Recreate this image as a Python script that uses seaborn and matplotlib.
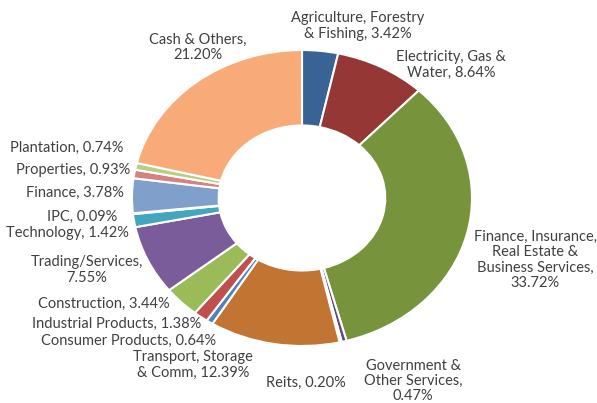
import matplotlib
matplotlib.use("Agg")
import matplotlib.pyplot as plt
import seaborn as sns

# sector names (line breaks as in the chart) and weights in %
sectors = [
    "Agriculture, Forestry\n& Fishing",
    "Electricity, Gas &\nWater",
    "Finance, Insurance,\nReal Estate &\nBusiness Services",
    "Government &\nOther Services",
    "Reits",
    "Transport, Storage\n& Comm",
    "Consumer Products",
    "Industrial Products",
    "Construction",
    "Trading/Services",
    "Technology",
    "IPC",
    "Finance",
    "Properties",
    "Plantation",
    "Cash & Others",
]
weights = [3.42, 8.64, 33.72, 0.47, 0.20, 12.39, 0.64, 1.38,
           3.44, 7.55, 1.42, 0.09, 3.78, 0.93, 0.74, 21.20]
# value goes on a new line for these
value_on_new_line = [False, False, True, True, False, False, False, False,
                     False, True, False, False, False, False, False, True]

colors = ["#3A6395", "#953735", "#77933C", "#604A7B", "#31859C", "#C27433",
          "#4F81BD", "#C0504D", "#9BBB59", "#7B5C9A", "#42A6BF", "#F79646",
          "#819FCB", "#D48381", "#B7CE88", "#F8AB78"]

# label anchor points in pixels (x, y from top)
label_pos = [(358, 26), (451, 65), (535, 260), (413, 381), (306, 383),
             (193, 365), (129, 341), (117, 324), (104, 304), (87, 270),
             (67, 233), (82, 217), (75, 193), (73, 170), (67, 148), (198, 47)]

W, H = 597, 403
sns.set_theme(style="white")
plt.rcParams["font.family"] = ["Lato", "DejaVu Sans"]

fig = plt.figure(figsize=(W / 100, H / 100), dpi=100)
ax = fig.add_axes([0, 0, 1, 1])

ax.pie(weights, colors=colors, startangle=90, counterclock=False,
       wedgeprops=dict(width=0.51, edgecolor="white", linewidth=1.5))

# stretched donut: centre at (302, 198) px, radii 170 x 148 px
cx, cy, rx, ry = 302, 198, 170, 148
ax.set_aspect("auto")
ax.set_xlim(-cx / rx, (W - cx) / rx)
ax.set_ylim(-(H - cy) / ry, cy / ry)
ax.axis("off")

for name, w, nl, (px, py) in zip(sectors, weights, value_on_new_line, label_pos):
    sep = ",\n" if nl else ", "
    fig.text(px / W, 1 - py / H, f"{name}{sep}{w:.2f}%", ha="center",
             va="center", fontsize=10.5, color="#404040", linespacing=1.1)

fig.savefig("out.png", dpi=100)
